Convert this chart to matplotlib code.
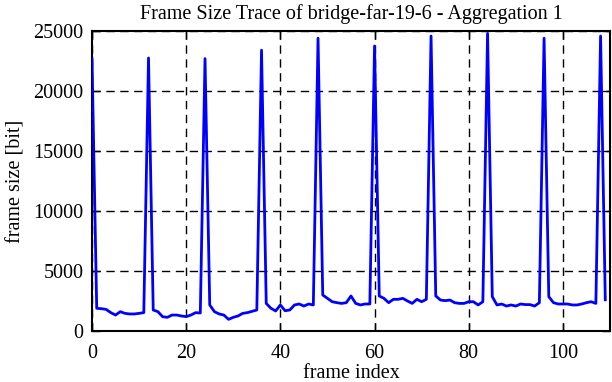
import numpy as np
import matplotlib.pyplot as plt

# frame sizes in bits, one per frame
frame_size = [
    22700, 1890, 1860, 1800, 1530, 1330, 1610, 1470, 1420, 1420, 1470, 1530,
    22750, 1750, 1610, 1190, 1140, 1330, 1330, 1250, 1200, 1330, 1530, 1500,
    22700, 2170, 1610, 1420, 1330, 970, 1140, 1250, 1470, 1530, 1640, 1750,
    23400, 2300, 1890, 1670, 2170, 1690, 1750, 2170, 2250, 2080, 2250, 2170,
    24400, 3000, 2720, 2440, 2360, 2300, 2360, 2920, 2300, 2170, 2250, 2250,
    23750, 2920, 2720, 2360, 2640, 2640, 2720, 2500, 2300, 2640, 2440, 2640,
    24580, 2920, 2580, 2530, 2580, 2360, 2300, 2300, 2440, 2440, 2170, 2440,
    24800, 2860, 2170, 2250, 2080, 2170, 2080, 2250, 2200, 2200, 2080, 2360,
    24400, 2860, 2360, 2250, 2250, 2250, 2170, 2170, 2250, 2360, 2440, 2300,
    24580, 2600,
]
frame_index = np.arange(len(frame_size))

x_ticks = [0, 20, 40, 60, 80, 100]
y_ticks = [0, 5000, 10000, 15000, 20000, 25000]

plt.rcParams['font.family'] = ['Liberation Serif', 'DejaVu Serif']

fig = plt.figure(figsize=(6.12, 3.82), dpi=100)
ax = fig.add_axes([92 / 612, 1 - 331 / 382, 518 / 612, 300 / 382])

ax.plot(frame_index, frame_size, color='#0000ff', linewidth=2, zorder=3)

ax.set_xlim(0, 110)
ax.set_ylim(0, 25000)
ax.set_xticks(x_ticks)
ax.set_yticks(y_ticks)
ax.grid(True, color='black', linestyle=(0, (6, 4)), linewidth=1, zorder=1)
ax.tick_params(direction='in', top=True, right=True, length=6, width=1,
               labelsize=14.5)
ax.tick_params(axis='x', pad=9)
ax.tick_params(axis='y', pad=6)
for s in ax.spines.values():
    s.set_linewidth(1.5)

ax.set_title('Frame Size Trace of bridge-far-19-6 - Aggregation 1',
             fontsize=14.5, pad=9)
ax.set_xlabel('frame index', fontsize=14.5, labelpad=1)
ax.set_ylabel('frame size [bit]', fontsize=14.5, labelpad=6)

fig.savefig('out.png', dpi=100)
